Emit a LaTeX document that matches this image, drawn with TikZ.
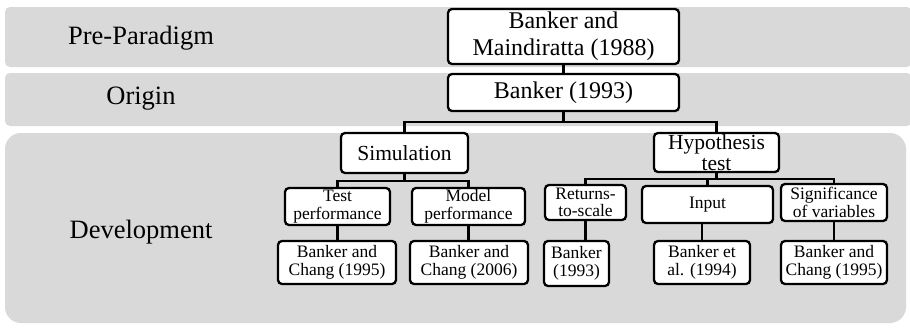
\documentclass[tikz,border=0pt]{standalone}
\usepackage{fontspec}
\setmainfont{Liberation Serif}
\definecolor{bandgray}{HTML}{D9D9D9}
\begin{document}
\begin{tikzpicture}[x=1pt,y=-1pt,
  band/.style={fill=bandgray,draw=none},
  lbl/.style={font=\fontsize{26.5}{28}\selectfont,inner sep=0pt},
  box/.style={draw=black,fill=white,line width=2.3pt,rounded corners=4pt,inner sep=0pt,align=center},
  bigbox/.style={box,font=\fontsize{24}{27}\selectfont},
  midbox/.style={box,font=\fontsize{21.5}{21}\selectfont},
  smallbox/.style={box,font=\fontsize{17.5}{17.5}\selectfont},
  conn/.style={line width=2.3pt}]
\useasboundingbox (0,0) rectangle (910,327);
% bands
\fill[band,rounded corners=5pt] (5,7) rectangle (912,67);
\fill[band,rounded corners=5pt] (5,73) rectangle (912,126);
\fill[band,rounded corners=16pt] (5,133) rectangle (906,323);
% labels
\node[lbl] (lpre) at (141,38) {Pre-Paradigm};
\node[lbl] (lori) at (141,99) {Origin};
\node[lbl] (ldev) at (141,232) {Development};
% boxes
\node[bigbox,minimum width=231pt,minimum height=55pt] (top) at (563.5,36.5) {Banker and\\Maindiratta (1988)};
\node[bigbox,minimum width=231pt,minimum height=37pt] (b93) at (563.5,92.5) {Banker (1993)};
\node[midbox,minimum width=127pt,minimum height=40pt] (sim) at (404.5,153) {Simulation};
\node[midbox,minimum width=125pt,minimum height=39pt] (hyp) at (716.5,152.5) {Hypothesis\\test};
\node[smallbox,minimum width=105pt,minimum height=37pt] (tp) at (337.5,206.5) {Test\\performance};
\node[smallbox,minimum width=113pt,minimum height=37pt] (mp) at (468.5,206.5) {Model\\performance};
\node[smallbox,minimum width=81pt,minimum height=35pt] (rs) at (585.5,202.5) {Returns-\\to-scale};
\node[smallbox,minimum width=131pt,minimum height=37pt] (in) at (707.5,204.5) {Input};
\node[smallbox,minimum width=106pt,minimum height=37pt] (sg) at (834,202.5) {Significance\\of variables};
\node[smallbox,minimum width=118pt,minimum height=43pt] (l1) at (337,262.5) {Banker and\\Chang (1995)};
\node[smallbox,minimum width=118pt,minimum height=43pt] (l2) at (469,262.5) {Banker and\\Chang (2006)};
\node[smallbox,minimum width=65pt,minimum height=45pt] (l3) at (576.5,263.5) {Banker\\(1993)};
\node[smallbox,minimum width=96pt,minimum height=43pt] (l4) at (702,262.5) {Banker et\\al. (1994)};
\node[smallbox,minimum width=106pt,minimum height=43pt] (l5) at (834,262.5) {Banker and\\Chang (1995)};
% connectors
\draw[conn] (top.south) -- (b93.north);
\coordinate (j1) at (563.5,122);
\draw[conn] (b93.south) -- (j1);
\draw[conn] (sim.north) |- (j1) -| (hyp.north);
\coordinate (j2) at (404.5,181);
\draw[conn] (sim.south) -- (j2);
\draw[conn] (tp.north) |- (j2) -| (mp.north);
\coordinate (j3) at (716.5,179);
\draw[conn] (hyp.south) -- (j3);
\draw[conn] (rs.north) |- (j3) -| (sg.north);
\draw[conn] (in.north) -- (in.north |- j3);
\draw[conn] (tp.south) -- (tp.south |- l1.north);
\draw[conn] (mp.south) -- (mp.south |- l2.north);
\draw[conn] (rs.south) -- (rs.south |- l3.north);
\draw[conn] (l4.north |- in.south) -- (l4.north);
\draw[conn] (sg.south) -- (l5.north);
\end{tikzpicture}
\end{document}
